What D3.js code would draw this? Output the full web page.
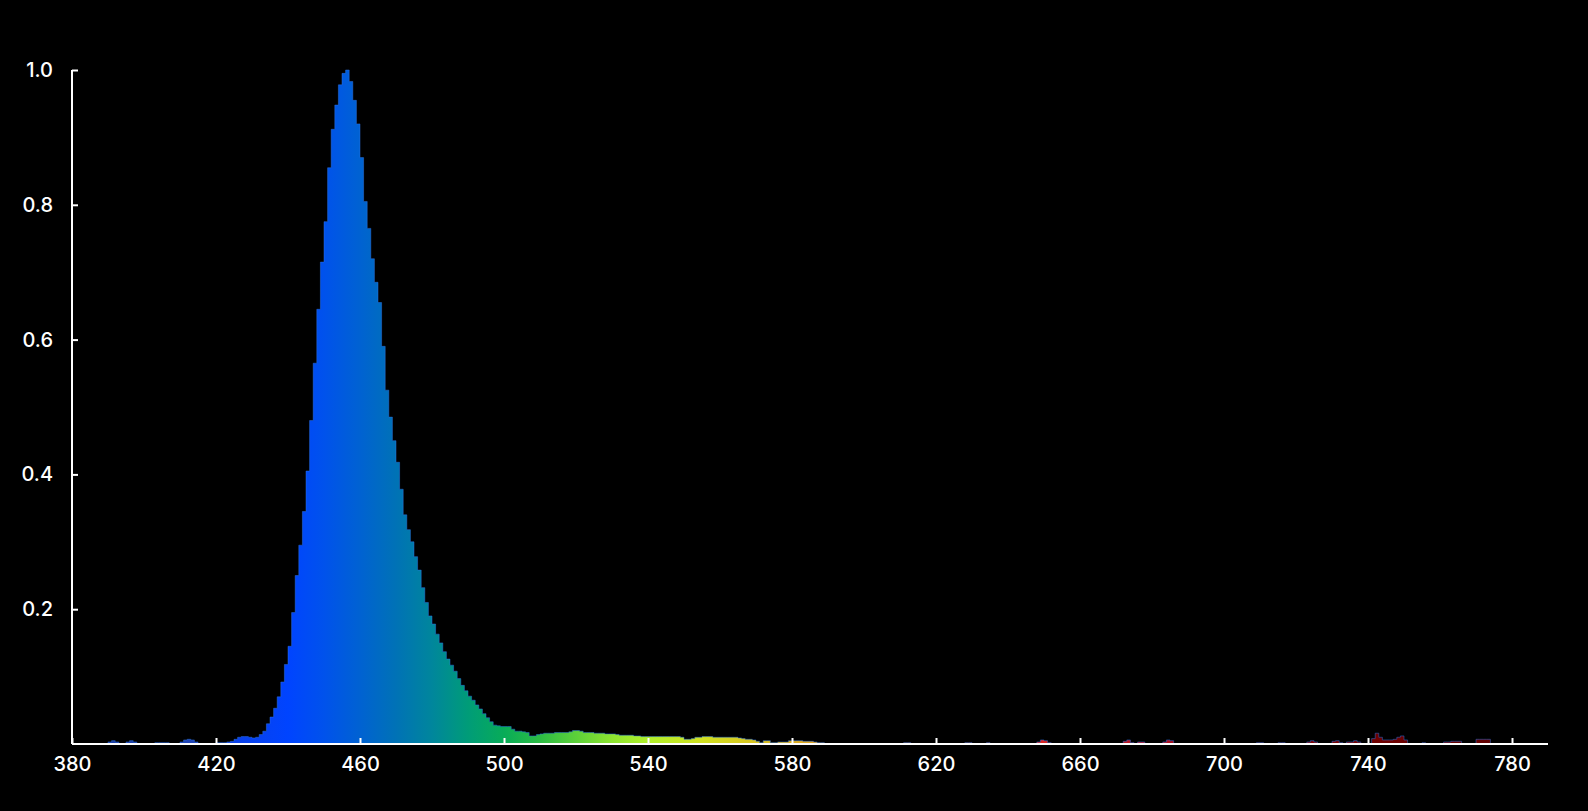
<!DOCTYPE html>
<html>
<head>
<meta charset="utf-8">
<script src="https://cdn.jsdelivr.net/npm/d3@7"></script>
<style>
  html, body { margin: 0; padding: 0; background: #000; }
  svg { display: block; }
</style>
</head>
<body>
<svg id="chart" width="1588" height="811"></svg>
<script>
// ---- data (relative intensity per 1 nm, starting at 380 nm) ----
const startWavelength = 380;
const intensity = [
  0,0,0,0,0,0,0,0,0,0,                                              // 380
  0.003,0.005,0.003,0,0,0.003,0.005,0.003,0,0,                      // 390
  0,0,0,0.002,0.002,0.002,0.002,0,0,0,                              // 400
  0.003,0.006,0.007,0.006,0.003,0,0,0,0,0,                          // 410
  0.002,0.002,0.002,0.003,0.004,0.007,0.010,0.011,0.011,0.010,      // 420
  0.009,0.010,0.014,0.019,0.030,0.040,0.053,0.070,0.092,0.118,      // 430
  0.145,0.195,0.250,0.295,0.345,0.405,0.480,0.565,0.645,0.715,      // 440
  0.775,0.855,0.912,0.948,0.978,0.995,1.000,0.983,0.955,0.920,      // 450
  0.870,0.805,0.765,0.720,0.685,0.655,0.590,0.525,0.485,0.450,      // 460
  0.418,0.378,0.340,0.318,0.300,0.278,0.258,0.232,0.210,0.190,      // 470
  0.178,0.163,0.150,0.137,0.126,0.117,0.108,0.097,0.087,0.079,      // 480
  0.071,0.065,0.058,0.052,0.045,0.039,0.033,0.028,0.027,0.026,      // 490
  0.026,0.026,0.022,0.019,0.019,0.018,0.017,0.012,0.012,0.014,      // 500
  0.015,0.016,0.016,0.016,0.017,0.017,0.017,0.017,0.018,0.020,      // 510
  0.020,0.019,0.017,0.017,0.017,0.016,0.016,0.016,0.015,0.015,      // 520
  0.015,0.014,0.013,0.013,0.013,0.013,0.012,0.012,0.011,0.011,      // 530
  0.011,0.011,0.011,0.011,0.011,0.011,0.011,0.011,0.011,0.010,      // 540
  0.007,0.007,0.008,0.010,0.010,0.011,0.011,0.011,0.010,0.010,      // 550
  0.010,0.010,0.010,0.010,0.010,0.009,0.008,0.007,0.007,0.006,      // 560
  0.004,0.002,0.005,0.005,0.002,0.002,0.003,0.003,0.003,0.005,      // 570
  0.005,0.005,0.005,0.004,0.004,0.004,0.003,0.002,0.002,0,          // 580
  0,0,0,0,0,0,0,0,0,0,                                              // 590
  0,0,0,0,0,0,0,0,0,0,                                              // 600
  0,0.002,0.002,0,0,0,0,0,0,0,                                      // 610
  0,0,0,0,0,0,0,0,0.002,0.002,                                      // 620
  0,0,0,0,0.002,0,0,0,0,0,                                          // 630
  0,0,0,0,0,0,0,0,0.003,0.006,                                      // 640
  0.005,0.002,0,0,0,0,0,0,0,0,                                      // 650
  0,0,0,0,0,0,0,0,0,0,                                              // 660
  0,0,0.004,0.006,0.002,0,0.003,0.003,0,0,                          // 670
  0,0,0,0.003,0.006,0.005,0,0,0,0,                                  // 680
  0,0,0,0,0,0,0,0,0,0,                                              // 690
  0.001,0,0,0,0,0,0,0,0,0.002,                                      // 700
  0.002,0,0,0,0,0.002,0.002,0,0,0,                                  // 710
  0,0,0,0.003,0.005,0.003,0,0,0,0,                                  // 720
  0.004,0.005,0.002,0,0.003,0.003,0.005,0.003,0,0,                  // 730
  0,0.008,0.016,0.010,0.006,0.006,0.006,0.007,0.010,0.012,          // 740
  0.006,0,0,0,0,0.002,0,0,0,0,                                      // 750
  0,0.003,0.003,0.004,0.004,0.004,0,0,0,0,                          // 760
  0.007,0.007,0.007,0.007,0,0,0,0,0,0,                              // 770
  0,0,0,0,0,0,0,0,0,0,0                                             // 780-790
];
const xTicks = [380, 420, 460, 500, 540, 580, 620, 660, 700, 740, 780];
const yTicks = [0.2, 0.4, 0.6, 0.8, 1.0];
// spectral fill colour stops (wavelength -> colour)
const stopWavelengths = [380, 415, 425, 440, 450, 460, 470, 480, 490, 500, 510, 520, 530, 540, 555, 570, 585, 610, 630, 650, 680, 700, 740, 790];
const stopColors = ["#1a3a9a","#1f44b8","#0a40e8","#0044ff","#0052ec","#0062d2","#0072b6","#00869c","#009c78","#08ac58","#2cbc44","#5cd03a","#8ce430","#b0f02a","#d0e020","#d8c420","#e0a622","#e07232","#e05432","#d82424","#b01020","#860814","#700000","#5a0000"];

// ---- chart ----
const W = 1588, H = 811;
const svg = d3.select("#chart");
svg.append("rect").attr("width", W).attr("height", H).attr("fill", "#000");

const x = d3.scaleLinear().domain([380, 790]).range([72, 1548]);
const y = d3.scaleLinear().domain([0, 1]).range([744, 70]);

const data = intensity.map((v, i) => ({ wl: startWavelength + i, v }));

const grad = svg.append("defs").append("linearGradient")
  .attr("id", "spec")
  .attr("gradientUnits", "userSpaceOnUse")
  .attr("x1", x(380)).attr("x2", x(790))
  .attr("y1", 0).attr("y2", 0);
stopWavelengths.forEach((wl, i) => {
  grad.append("stop")
    .attr("offset", (wl - 380) / (790 - 380))
    .attr("stop-color", stopColors[i]);
});

const area = d3.area()
  .x(d => x(d.wl))
  .y0(y(0))
  .y1(d => y(d.v))
  .curve(d3.curveStepAfter);
const line = d3.line()
  .x(d => x(d.wl))
  .y(d => y(d.v))
  .curve(d3.curveStepAfter);

svg.append("path").datum(data)
  .attr("d", area)
  .attr("fill", "url(#spec)");
svg.append("path").datum(data)
  .attr("d", line)
  .attr("fill", "none")
  .attr("stroke", "#2f74e6")
  .attr("stroke-opacity", 0.8)
  .attr("stroke-width", 0.6);

// axes
const font = "Inter, 'Open Sans', sans-serif";
const xAxis = svg.append("g")
  .attr("transform", `translate(0,${y(0)})`)
  .call(d3.axisBottom(x).tickValues(xTicks).tickSizeInner(-6).tickSizeOuter(0).tickPadding(13).tickFormat(d3.format("d")));
const yAxis = svg.append("g")
  .attr("transform", `translate(${x(380)},0)`)
  .call(d3.axisLeft(y).tickValues(yTicks).tickSizeInner(-6).tickSizeOuter(0).tickPadding(19).tickFormat(d3.format(".1f")));

[xAxis, yAxis].forEach(g => {
  g.select(".domain").attr("stroke", "#fff").attr("stroke-width", 2);
  g.selectAll(".tick line").attr("stroke", "#fff").attr("stroke-width", 2);
  g.selectAll(".tick text")
    .attr("fill", "#fff")
    .style("font-family", font)
    .style("font-size", "20px")
    .style("font-weight", 500);
});
// extend axis lines to full range
xAxis.select(".domain").attr("d", `M${x(380)},0H${x(790)}`);
yAxis.select(".domain").attr("d", `M0,${y(0)}V${y(1)}`);
</script>
</body>
</html>
